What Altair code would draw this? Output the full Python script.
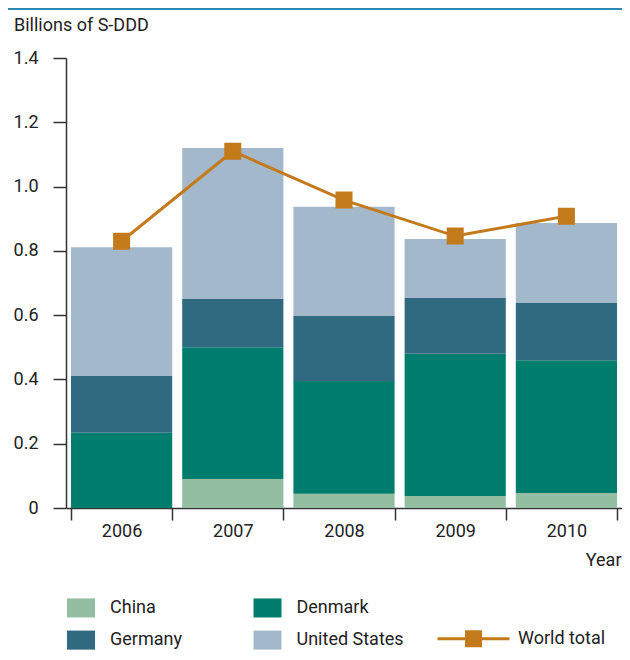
import altair as alt
import pandas as pd

# ---- data ----
years = ["2006", "2007", "2008", "2009", "2010"]
countries = ["China", "Denmark", "Germany", "United States"]
china = [0.0, 0.09, 0.044, 0.037, 0.047]
denmark = [0.234, 0.41, 0.351, 0.443, 0.413]
germany = [0.177, 0.15, 0.202, 0.173, 0.178]
united_states = [0.40, 0.47, 0.34, 0.184, 0.249]
world_total = [0.83, 1.11, 0.958, 0.846, 0.908]
y_ticks = [0, 0.2, 0.4, 0.6, 0.8, 1.0, 1.2, 1.4]
title_text = "Billions of S-DDD"

colors = ["#93bea2", "#007d6d", "#306a80", "#a4b8cb"]
world_color = "#c27a1a"
FONT = "Roboto"
TEXT = "#222222"
FS = 18
W, H = 556, 450

rows = []
for i, yr in enumerate(years):
    for k, (name, vals) in enumerate(zip(countries, [china, denmark, germany, united_states])):
        rows.append({"year": yr, "country": name, "value": vals[i], "order": k})
bars_df = pd.DataFrame(rows)
world_df = pd.DataFrame({"year": years, "total": world_total, "series": ["World total"] * len(years)})

x_enc = alt.X(
    "year:N",
    title="Year",
    sort=years,
    scale=alt.Scale(paddingInner=0.09, paddingOuter=0.045),
    axis=alt.Axis(
        labelAngle=0, tickBand="extent", tickSize=12, labelPadding=2,
        labelFontSize=FS, titleFontSize=FS, titleFontWeight="normal",
        titleX=W - 1, titleY=57, titleAlign="right", titleBaseline="alphabetic",
        titleAnchor="end",
    ),
)
y_scale = alt.Scale(domain=[0, 1.4], nice=False)
y_axis = alt.Axis(
    values=y_ticks, tickSize=13, labelPadding=15, title=None, grid=False,
    labelFontSize=FS,
    labelExpr="datum.value == 0 ? '0' : format(datum.value, '.1f')",
)

topline = alt.Chart(pd.DataFrame({"k": [0]})).mark_rule(
    color="#2a8ab5", strokeWidth=2
).encode(x=alt.value(-58), x2=alt.value(W), y=alt.value(-49))

title = alt.Chart(pd.DataFrame({"t": [title_text]})).mark_text(
    align="left", baseline="alphabetic", font=FONT, fontSize=FS, color=TEXT
).encode(text="t:N", x=alt.value(-52), y=alt.value(-27))

bars = alt.Chart(bars_df).mark_bar().encode(
    x=x_enc,
    y=alt.Y("value:Q", stack="zero", scale=y_scale, axis=y_axis),
    color=alt.Color(
        "country:N",
        sort=countries,
        scale=alt.Scale(domain=countries, range=colors),
        legend=alt.Legend(
            title=None, orient="none", legendX=1, legendY=535.7, columns=2,
            direction="horizontal",
            symbolType="M-1,-0.68L1,-0.68L1,0.68L-1,0.68Z", symbolSize=784,
            symbolStrokeWidth=0, symbolOpacity=1,
            labelFontSize=FS, labelFont=FONT, labelColor=TEXT,
            labelOffset=15, columnPadding=71.5, rowPadding=8.4, padding=0,
        ),
    ),
    order=alt.Order("order:Q", sort="ascending"),
)

line = alt.Chart(world_df).mark_line(color=world_color, strokeWidth=3).encode(
    x=alt.X("year:N", sort=years),
    y=alt.Y("total:Q", scale=y_scale),
)

squares = alt.Chart(world_df).mark_square(
    size=196, opacity=1, filled=True, stroke=world_color, strokeWidth=3
).encode(
    x=alt.X("year:N", sort=years),
    y=alt.Y("total:Q", scale=y_scale),
    fill=alt.Fill(
        "series:N",
        scale=alt.Scale(range=[world_color]),
        legend=alt.Legend(
            title=None, orient="none", legendX=398.5, legendY=571.7,
            symbolType="M-5.14,0L5.14,0M-1,-1L1,-1L1,1L-1,1Z", symbolSize=196,
            symbolStrokeWidth=3, symbolStrokeColor=world_color, symbolOpacity=1,
            labelFontSize=FS, labelFont=FONT, labelColor=TEXT,
            labelOffset=35.5, padding=0,
        ),
    ),
)

chart = alt.layer(topline, title, bars, line, squares).properties(
    width=W,
    height=H,
    autosize="none",
    padding={"left": 58, "top": 50, "right": 0, "bottom": 144},
).configure_view(stroke=None).configure_axis(
    domainColor="#333333", tickColor="#333333", domainWidth=1.5, tickWidth=1.5,
    labelColor=TEXT, titleColor=TEXT, labelFont=FONT, titleFont=FONT,
)

chart.save("out.html", embed_options={"renderer": "svg", "actions": False})
